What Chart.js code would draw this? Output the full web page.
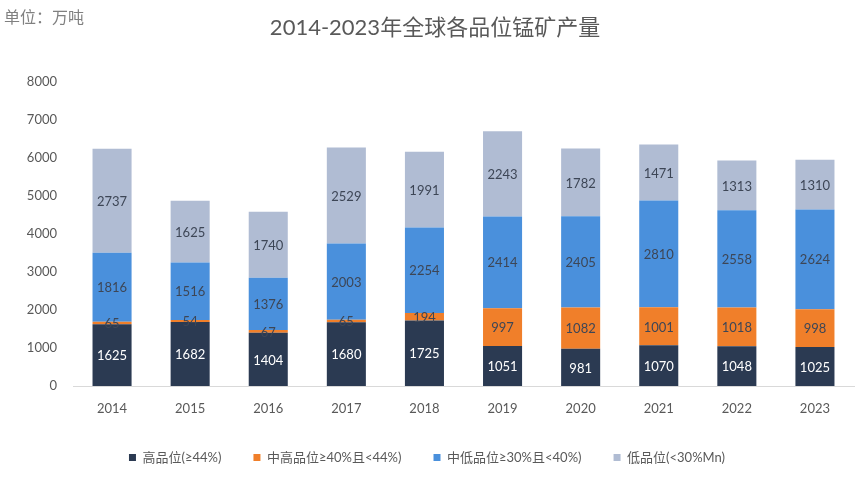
<!DOCTYPE html>
<html><head><meta charset="utf-8">
<script src="https://cdn.jsdelivr.net/npm/chart.js@4/dist/chart.umd.min.js"></script>
<style>html,body{margin:0;padding:0;background:#fff}#wrap{width:865px;height:487px}</style>
</head><body><div id="wrap"><canvas id="c" width="865" height="487"></canvas></div>
<script>
const years = ['2014','2015','2016','2017','2018','2019','2020','2021','2022','2023'];
const highGrade = [1625,1682,1404,1680,1725,1051,981,1070,1048,1025];
const midHighGrade = [65,54,67,65,194,997,1082,1001,1018,998];
const midLowGrade = [1816,1516,1376,2003,2254,2414,2405,2810,2558,2624];
const lowGrade = [2737,1625,1740,2529,1991,2243,1782,1471,1313,1310];
const seriesNames = ['高品位(≥44%)','中高品位≥40%且<44%)','中低品位≥30%且<40%)','低品位(<30%Mn)'];
const colors = ['#2b3a52','#f07f2a','#4a90dc','#b0bcd3'];
const labelColors = ['#ffffff','#3d4656','#3d4656','#3d4656'];
const FONT = "Lato, 'Noto Sans CJK SC', sans-serif";

const labelPlugin = {
  id: 'segLabels',
  afterDatasetsDraw(chart){
    const ctx = chart.ctx;
    ctx.save();
    ctx.font = '13px ' + FONT;
    ctx.textAlign = 'center';
    ctx.textBaseline = 'middle';
    chart.data.datasets.forEach((ds, i) => {
      const meta = chart.getDatasetMeta(i);
      meta.data.forEach((bar, j) => {
        const y = (bar.y + bar.base) / 2;
        ctx.fillStyle = labelColors[i];
        ctx.fillText(String(ds.data[j]), bar.x, y + 1);
      });
    });
    ctx.restore();
  },
  beforeDraw(chart){
    const ctx = chart.ctx;
    ctx.save();
    ctx.fillStyle = '#fff';
    ctx.fillRect(0,0,chart.width,chart.height);
    ctx.fillStyle = '#595959';
    ctx.font = '22px ' + FONT;
    ctx.textAlign = 'center';
    ctx.textBaseline = 'middle';
    ctx.fillText('2014-2023年全球各品位锰矿产量', 435, 28);
    ctx.fillStyle = '#808080';
    ctx.font = '16px ' + FONT;
    ctx.textAlign = 'left';
    ctx.fillText('单位：万吨', 4, 18);
    ctx.restore();
  }
};

const sources = [highGrade, midHighGrade, midLowGrade, lowGrade];
new Chart(document.getElementById('c'), {
  type: 'bar',
  data: {
    labels: years,
    datasets: sources.map((d, i) => ({
      label: seriesNames[i],
      data: d,
      backgroundColor: colors[i],
      borderWidth: 0,
      barPercentage: 0.5,
      categoryPercentage: 1.0
    }))
  },
  options: {
    responsive: false,
    animation: false,
    layout: { padding: { top: 82, right: 11, left: 0, bottom: 13 } },
    plugins: {
      legend: {
        position: 'bottom',
        labels: {
          font: { size: 13, family: FONT },
          color: '#595959',
          boxWidth: 7, boxHeight: 7,
          padding: 32
        }
      },
      tooltip: { enabled: false },
      title: { display: false }
    },
    scales: {
      x: {
        stacked: true,
        grid: { display: false, drawTicks: false },
        border: { color: '#d9d9d9' },
        ticks: { color: '#595959', font: { size: 13, family: FONT }, padding: 15 },
        afterFit(s){ s.height = 33; }
      },
      y: {
        stacked: true,
        min: 0, max: 8000,
        grid: { display: false, drawTicks: false },
        border: { display: false },
        ticks: { stepSize: 1000, color: '#595959', font: { size: 13, family: FONT }, padding: 16,
          callback: v => String(v) },
        afterFit(s){ s.width = 73; }
      }
    }
  },
  plugins: [labelPlugin]
});
</script></body></html>
